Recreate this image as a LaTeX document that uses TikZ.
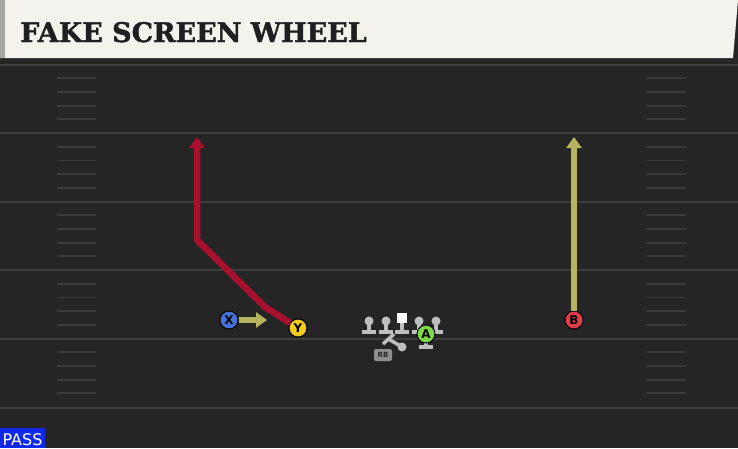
\documentclass[tikz,border=0pt]{standalone}
\usepackage{fontspec}
\usepackage{tikz}
\usepackage{xcolor}
\newfontfamily\titlefont{DejaVu Serif}[BoldFeatures = {FakeBold = 1.5}]
\newfontfamily\labelfont{DejaVu Sans}
\definecolor{FieldGray}{RGB}{37, 37, 37}
\definecolor{LineGray}{RGB}{62, 62, 62}
\definecolor{HashGray}{RGB}{58, 58, 58}
\definecolor{BannerCream}{RGB}{244, 242, 236}
\definecolor{RouteRed}{RGB}{168, 16, 46}
\definecolor{RouteKhaki}{RGB}{182, 180, 92}
\definecolor{XBlue}{RGB}{66, 114, 218}
\definecolor{YYellow}{RGB}{244, 204, 30}
\definecolor{BRed}{RGB}{226, 60, 74}
\definecolor{AGreen}{RGB}{124, 216, 72}
\definecolor{LinemanGray}{RGB}{190, 190, 190}
\definecolor{PassBlue}{RGB}{16, 40, 232}

\tikzset{
    player/.style = {circle, draw = black, line width = 1pt, minimum size = 18pt,
        inner sep = 0pt, font = \labelfont\bfseries\fontsize{12}{12}\selectfont},
    redroute/.style = {RouteRed, line width = 6.5pt, line join = round, -{Triangle[length = 11pt, width = 15pt]}},
    khakiroute/.style = {RouteKhaki, line width = 6.5pt, -{Triangle[length = 11pt, width = 15pt]}},
    lineman/.style = {LinemanGray, line width = 3.5pt}
}
\usetikzlibrary{arrows.meta}

\begin{document}
\begin{tikzpicture}[x = 1pt, y = -1pt]
            %背景
            \fill[FieldGray] (0, 0) rectangle (738, 448);
            \useasboundingbox (0, 0) rectangle (738, 448);
            %码线
            \foreach \y in {64.5, 133, 201.5, 270, 338.5, 408}
                \draw[LineGray, line width = 2pt] (0, \y) -- (738, \y);
            %短标记线
            \foreach \y in {64.5, 133, 201.5, 270, 338.5}
                \foreach \k in {1, 2, 3, 4} {
                    \draw[HashGray, line width = 1.8pt] (57, \y + 13.7 * \k) -- (96, \y + 13.7 * \k);
                    \draw[HashGray, line width = 1.8pt] (646, \y + 13.7 * \k) -- (686, \y + 13.7 * \k);
                }
            %标题栏
            \fill[black!85] (0, 57) rectangle (738, 63);
            \fill[BannerCream] (0, 0) -- (738, 0) -- (733, 58) -- (0, 58) -- cycle;
            \fill[gray!70] (0, 0) rectangle (5, 58);
            \node[anchor = base west, inner sep = 0pt, text = black!88,
                font = \titlefont\bfseries\fontsize{27}{27}\selectfont] (title) at (20, 42) {FAKE SCREEN WHEEL};
            %球员
            \node[player, fill = XBlue] (X) at (229, 320) {X};
            \node[player, fill = YYellow] (Y) at (298, 328) {Y};
            \node[player, fill = BRed] (B) at (574, 320) {B};
            %锋线
            \foreach \x in {369, 386, 419, 436} {
                \draw[lineman] (\x, 322) -- (\x, 331);
                \draw[lineman] (\x - 7, 332) -- (\x + 7, 332);
                \fill[LinemanGray] (\x, 321) circle (4.5pt);
            }
            \draw[lineman] (402, 322) -- (402, 331);
            \draw[lineman] (395, 332) -- (409, 332);
            \fill[white] (397, 313) rectangle (407, 323);
            %A 与跑卫
            \draw[lineman] (426, 340) -- (426, 346);
            \draw[lineman] (419, 347) -- (433, 347);
            \node[player, fill = AGreen] (A) at (426, 334) {A};
            \draw[lineman] (383, 344) -- (394, 334);
            \draw[lineman] (388.5, 339) -- (402, 347);
            \fill[LinemanGray] (402, 347) circle (4.5pt);
            \node[fill = LinemanGray!75!black, rounded corners = 2pt, minimum width = 18pt, minimum height = 12pt,
                inner sep = 0pt, text = black!85, font = \labelfont\bfseries\fontsize{7}{7}\selectfont] (RB) at (383, 355) {RB};
            %路线
            \coordinate (Xend) at (267, 320);
            \coordinate (Yend) at (197, 137);
            \coordinate (Bend) at (574, 137);
            \draw[khakiroute] (X) -- (Xend);
            \draw[redroute] (Y) -- (265, 307) -- (197, 240) -- (Yend);
            \draw[khakiroute] (B) -- (Bend);
            %PASS 标签
            \fill[PassBlue] (0, 428) rectangle (45, 448);
            \node[anchor = base, inner sep = 0pt, text = white,
                font = \labelfont\fontsize{16}{16}\selectfont] (pass) at (22.5, 445) {PASS};
        \end{tikzpicture}
\end{document}
